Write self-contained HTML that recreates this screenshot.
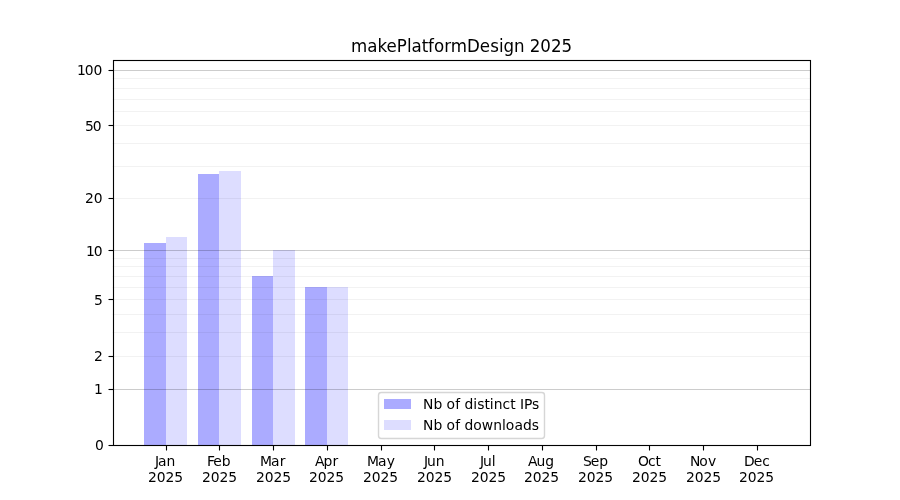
<!DOCTYPE html>
<html lang="en"><head><meta charset="utf-8"><title>makePlatformDesign 2025</title>
<style>
html,body{margin:0;padding:0;background:#fff;}
body{width:900px;height:500px;overflow:hidden;}
svg{display:block;}
text{font-family:"DejaVu Sans", "Liberation Sans", sans-serif;fill:#000;}
.t10{font-size:13.889px;}
.t12{font-size:16.667px;}
</style></head><body>
<svg width="900" height="500" viewBox="0 0 900 500">
<rect x="0" y="0" width="900" height="500" fill="#fff"/>
<g shape-rendering="crispEdges" fill="#0000ff">
<rect x="144" y="243" width="22" height="203" fill-opacity="0.33"/>
<rect x="166" y="237" width="21" height="209" fill-opacity="0.133"/>
<rect x="198" y="174" width="21" height="272" fill-opacity="0.33"/>
<rect x="219" y="171" width="22" height="275" fill-opacity="0.133"/>
<rect x="252" y="276" width="21" height="170" fill-opacity="0.33"/>
<rect x="273" y="250" width="22" height="196" fill-opacity="0.133"/>
<rect x="305" y="287" width="22" height="159" fill-opacity="0.33"/>
<rect x="327" y="287" width="21" height="159" fill-opacity="0.133"/>
</g>
<g stroke="#000" stroke-width="1.111" fill="none">
<line x1="112.5" x2="810" y1="389.5" y2="389.5" stroke-opacity="0.2"/>
<line x1="112.5" x2="810" y1="250.5" y2="250.5" stroke-opacity="0.2"/>
<line x1="112.5" x2="810" y1="70.5" y2="70.5" stroke-opacity="0.2"/>
<line x1="112.5" x2="810" y1="356.5" y2="356.5" stroke-opacity="0.05"/>
<line x1="112.5" x2="810" y1="332.5" y2="332.5" stroke-opacity="0.05"/>
<line x1="112.5" x2="810" y1="314.5" y2="314.5" stroke-opacity="0.05"/>
<line x1="112.5" x2="810" y1="299.5" y2="299.5" stroke-opacity="0.05"/>
<line x1="112.5" x2="810" y1="287.5" y2="287.5" stroke-opacity="0.05"/>
<line x1="112.5" x2="810" y1="276.5" y2="276.5" stroke-opacity="0.05"/>
<line x1="112.5" x2="810" y1="266.5" y2="266.5" stroke-opacity="0.05"/>
<line x1="112.5" x2="810" y1="258.5" y2="258.5" stroke-opacity="0.05"/>
<line x1="112.5" x2="810" y1="198.5" y2="198.5" stroke-opacity="0.05"/>
<line x1="112.5" x2="810" y1="166.5" y2="166.5" stroke-opacity="0.05"/>
<line x1="112.5" x2="810" y1="143.5" y2="143.5" stroke-opacity="0.05"/>
<line x1="112.5" x2="810" y1="125.5" y2="125.5" stroke-opacity="0.05"/>
<line x1="112.5" x2="810" y1="111.5" y2="111.5" stroke-opacity="0.05"/>
<line x1="112.5" x2="810" y1="99.5" y2="99.5" stroke-opacity="0.05"/>
<line x1="112.5" x2="810" y1="88.5" y2="88.5" stroke-opacity="0.05"/>
<line x1="112.5" x2="810" y1="78.5" y2="78.5" stroke-opacity="0.05"/>
</g>
<g stroke="#000" stroke-width="1.111" fill="none">
<line x1="166.5" x2="166.5" y1="445.5" y2="450.5"/>
<line x1="219.5" x2="219.5" y1="445.5" y2="450.5"/>
<line x1="273.5" x2="273.5" y1="445.5" y2="450.5"/>
<line x1="327.5" x2="327.5" y1="445.5" y2="450.5"/>
<line x1="381.5" x2="381.5" y1="445.5" y2="450.5"/>
<line x1="434.5" x2="434.5" y1="445.5" y2="450.5"/>
<line x1="488.5" x2="488.5" y1="445.5" y2="450.5"/>
<line x1="542.5" x2="542.5" y1="445.5" y2="450.5"/>
<line x1="596.5" x2="596.5" y1="445.5" y2="450.5"/>
<line x1="649.5" x2="649.5" y1="445.5" y2="450.5"/>
<line x1="703.5" x2="703.5" y1="445.5" y2="450.5"/>
<line x1="757.5" x2="757.5" y1="445.5" y2="450.5"/>
<line x1="108.5" x2="113" y1="445.5" y2="445.5"/>
<line x1="108.5" x2="113" y1="389.5" y2="389.5"/>
<line x1="108.5" x2="113" y1="356.5" y2="356.5"/>
<line x1="108.5" x2="113" y1="299.5" y2="299.5"/>
<line x1="108.5" x2="113" y1="250.5" y2="250.5"/>
<line x1="108.5" x2="113" y1="198.5" y2="198.5"/>
<line x1="108.5" x2="113" y1="125.5" y2="125.5"/>
<line x1="108.5" x2="113" y1="70.5" y2="70.5"/>
</g>
<rect x="113.5" y="60.5" width="697" height="385" fill="none" stroke="#000" stroke-width="1.111"/>
<g>
<text class="t10" x="95" y="450">0</text>
<text class="t10" x="94" y="394">1</text>
<text class="t10" x="94" y="361">2</text>
<text class="t10" x="94" y="305">5</text>
<text class="t10" x="86 93.75" y="256">10</text>
<text class="t10" x="85 93.75" y="203">20</text>
<text class="t10" x="85 92.75" y="131">50</text>
<text class="t10" x="77 84.75 93.5" y="75">100</text>
</g>
<g>
<text class="t10" x="155 158 166.5" y="466">Jan</text><text class="t10" x="148 156.75 165.5 174.25" y="482">2025</text>
<text class="t10" x="207 213.25 221.75" y="466">Feb</text><text class="t10" x="202 210.75 219.5 228.25" y="482">2025</text>
<text class="t10" x="260 271 279.75" y="466">Mar</text><text class="t10" x="256 264.75 273.5 282.25" y="482">2025</text>
<text class="t10" x="315 323.5 332.5" y="466">Apr</text><text class="t10" x="309 317.75 326.5 335.25" y="482">2025</text>
<text class="t10" x="367 378 386.75" y="466">May</text><text class="t10" x="363 371.75 380.5 389.25" y="482">2025</text>
<text class="t10" x="424 427 435.75" y="466">Jun</text><text class="t10" x="417 425.75 434.5 443.25" y="482">2025</text>
<text class="t10" x="480 483 491.75" y="466">Jul</text><text class="t10" x="471 479.75 488.5 497.25" y="482">2025</text>
<text class="t10" x="528 536.5 545.25" y="466">Aug</text><text class="t10" x="524 532.75 541.5 550.25" y="482">2025</text>
<text class="t10" x="583 590.75 599.25" y="466">Sep</text><text class="t10" x="578 586.75 595.5 604.25" y="482">2025</text>
<text class="t10" x="638 648 655.5" y="466">Oct</text><text class="t10" x="632 640.75 649.5 658.25" y="482">2025</text>
<text class="t10" x="690 699.25 708" y="466">Nov</text><text class="t10" x="686 694.75 703.5 712.25" y="482">2025</text>
<text class="t10" x="744 753.75 762.25" y="466">Dec</text><text class="t10" x="739 747.75 756.5 765.25" y="482">2025</text>
</g>
<text class="t12" x="351 367.25 377.5 386.5 396.75 407 411.5 421.75 428 434 444.25 450.75 467 479.75 490.25 499 503.5 514 524.5 529.75 540.25 551 561.5" y="0" transform="translate(0,52) scale(1,1.07)">makePlatformDesign 2025</text>
<rect x="378.5" y="392.5" width="166" height="46" rx="2.78" ry="2.78" fill="#fff" stroke="#ccc" stroke-width="1.389" opacity="0.8"/>
<g shape-rendering="crispEdges" fill="#0000ff">
<rect x="384" y="399" width="27" height="10" fill-opacity=".33"/>
<rect x="384" y="420" width="27" height="10" fill-opacity=".133"/>
</g>
<g class="t10">
<text class="t10" x="423 433.5 442.25 446.5 455.25 460 464.5 473.25 477.25 484.5 489.75 493.75 502.5 510.25 515.5 520 524 532" y="409">Nb of distinct IPs</text>
<text class="t10" x="423 433.5 442.5 446.5 455.25 460.25 464.5 473.25 481.75 493.25 502 505.75 514.5 523 531.75" y="430">Nb of downloads</text>
</g>
</svg>
</body></html>
